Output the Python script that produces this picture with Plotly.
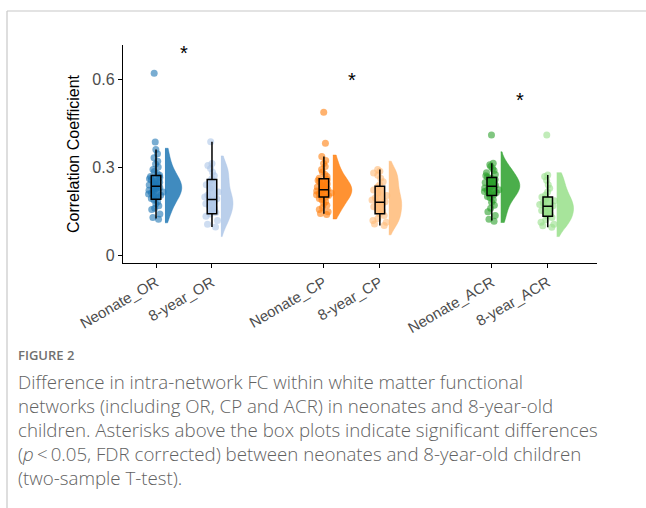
import plotly.graph_objects as go

# ---------------- data ----------------
categories = ["Neonate_OR", "8-year_OR", "Neonate_CP", "8-year_CP", "Neonate_ACR", "8-year_ACR"]
positions = [1, 2, 4, 5, 7, 8]

neonate_or = [0.122, 0.128, 0.140, 0.155, 0.160, 0.168, 0.175, 0.182, 0.188, 0.193, 0.197, 0.200,
              0.204, 0.208, 0.212, 0.215, 0.218, 0.221, 0.224, 0.227, 0.230, 0.233, 0.236, 0.239,
              0.242, 0.245, 0.248, 0.252, 0.256, 0.260, 0.264, 0.268, 0.272, 0.278, 0.285, 0.292,
              0.300, 0.310, 0.320, 0.332, 0.345, 0.360, 0.385, 0.620]
year8_or = [0.096, 0.105, 0.118, 0.132, 0.140, 0.145, 0.152, 0.160, 0.168, 0.175, 0.182, 0.188,
            0.192, 0.198, 0.205, 0.215, 0.228, 0.240, 0.252, 0.260, 0.270, 0.282, 0.295, 0.305,
            0.312, 0.386]
neonate_cp = [0.138, 0.142, 0.148, 0.155, 0.162, 0.170, 0.176, 0.182, 0.188, 0.193, 0.197, 0.200,
              0.203, 0.206, 0.209, 0.212, 0.215, 0.218, 0.220, 0.222, 0.224, 0.226, 0.229, 0.232,
              0.235, 0.238, 0.242, 0.246, 0.250, 0.254, 0.258, 0.262, 0.268, 0.275, 0.283, 0.292,
              0.302, 0.312, 0.322, 0.336, 0.381, 0.487]
year8_cp = [0.101, 0.106, 0.112, 0.118, 0.125, 0.135, 0.142, 0.150, 0.158, 0.165, 0.172, 0.178,
            0.182, 0.188, 0.195, 0.203, 0.212, 0.222, 0.232, 0.240, 0.250, 0.262, 0.272, 0.280,
            0.286, 0.292]
neonate_acr = [0.115, 0.122, 0.135, 0.148, 0.160, 0.170, 0.180, 0.188, 0.195, 0.200, 0.205, 0.209,
               0.213, 0.217, 0.220, 0.223, 0.226, 0.229, 0.232, 0.235, 0.238, 0.241, 0.244, 0.247,
               0.250, 0.254, 0.258, 0.262, 0.266, 0.270, 0.275, 0.281, 0.288, 0.295, 0.302, 0.308,
               0.313, 0.409]
year8_acr = [0.095, 0.100, 0.105, 0.112, 0.120, 0.128, 0.134, 0.140, 0.146, 0.152, 0.158, 0.163,
             0.168, 0.172, 0.178, 0.185, 0.192, 0.198, 0.205, 0.215, 0.228, 0.240, 0.255, 0.268,
             0.273, 0.409]
group_values = [neonate_or, year8_or, neonate_cp, year8_cp, neonate_acr, year8_acr]

# box statistics
box_q1 = [0.190, 0.141, 0.198, 0.141, 0.203, 0.132]
box_median = [0.235, 0.189, 0.223, 0.180, 0.235, 0.166]
box_q3 = [0.271, 0.258, 0.260, 0.235, 0.264, 0.198]
box_low = [0.125, 0.096, 0.141, 0.101, 0.118, 0.095]
box_high = [0.360, 0.386, 0.336, 0.292, 0.313, 0.273]

# violin extents
violin_span = [[0.110, 0.364], [0.063, 0.338], [0.123, 0.341], [0.069, 0.320], [0.111, 0.352], [0.063, 0.281]]

# significance asterisks (between pairs)
sig_x = [1.5, 4.5, 7.5]
sig_y = [0.690, 0.597, 0.530]

# ---------------- styles ----------------
dark = ["31,119,180", "255,127,14", "44,160,44"]
light = ["174,199,232", "255,187,120", "152,223,138"]
colors = []
for d, l in zip(dark, light):
    colors += [d, l]
violin_widths = [0.60, 0.43, 0.68, 0.46, 0.68, 0.60]

fig = go.Figure()

# jittered points
for p, vals, c in zip(positions, group_values, colors):
    fig.add_trace(go.Box(
        y=vals, x0=p, boxpoints="all", jitter=1, pointpos=0, width=0.30,
        fillcolor="rgba(0,0,0,0)", line=dict(color="rgba(0,0,0,0)", width=0),
        marker=dict(color=f"rgba({c},0.6)", size=7, line=dict(width=0)),
        showlegend=False, hoverinfo="y"))

# half violins
for p, vals, c, sp, w in zip(positions, group_values, colors, violin_span, violin_widths):
    fig.add_trace(go.Violin(
        y=vals, x0=p + 0.16, side="positive", width=w, spanmode="manual", span=sp,
        bandwidth=0.028, fillcolor=f"rgba({c},0.85)", line=dict(color=f"rgba({c},0.85)", width=0.5),
        points=False, box_visible=False, meanline_visible=False, scalemode="width",
        showlegend=False, hoverinfo="skip"))

# boxes
for i, (p, c) in enumerate(zip(positions, colors)):
    fig.add_trace(go.Box(
        x=[p], q1=[box_q1[i]], median=[box_median[i]], q3=[box_q3[i]],
        lowerfence=[box_low[i]], upperfence=[box_high[i]], width=0.17,
        fillcolor=f"rgba({c},0.85)", line=dict(color="black", width=1.5),
        whiskerwidth=0, boxpoints=False, showlegend=False))

for x, y in zip(sig_x, sig_y):
    fig.add_annotation(x=x, y=y, text="*", showarrow=False, xref="x", yref="y",
                       font=dict(size=20, color="black", family="Liberation Sans"))

# caption
plot_top, plot_bottom, plot_left, plot_w = 45, 263, 123, 474
ph = plot_bottom - plot_top


def py(ypx):
    return (plot_bottom - ypx) / ph


def px(xpx):
    return (xpx - plot_left) / plot_w


fig.add_annotation(x=px(16), y=py(355), xref="paper", yref="paper", xanchor="left", yanchor="middle",
                   text="FIGURE 2", showarrow=False,
                   font=dict(size=13, color="#707070", family="Open Sans", weight=600))
caption_lines = [
    "Difference in intra-network FC within white matter functional",
    "networks (including OR, CP and ACR) in neonates and 8-year-old",
    "children. Asterisks above the box plots indicate significant differences",
    "(<i>p</i>\u2009<\u20090.05, FDR corrected) between neonates and 8-year-old children",
    "(two-sample T-test).",
]
for k, line in enumerate(caption_lines):
    fig.add_annotation(x=px(16), y=py(381 + 24 * k), xref="paper", yref="paper", xanchor="left",
                       yanchor="middle", text=line, showarrow=False,
                       font=dict(size=18.7, color="#626262", family="Open Sans", weight=300))

# frame lines
fig.add_shape(type="line", xref="paper", yref="paper", x0=px(7), x1=px(646), y0=py(11), y1=py(11),
              line=dict(color="#c8c8c8", width=1.2))
fig.add_shape(type="line", xref="paper", yref="paper", x0=px(7), x1=px(7), y0=py(11), y1=py(508),
              line=dict(color="#c8c8c8", width=1.2))

fig.update_layout(
    width=646, height=508, margin=dict(l=123, r=49, t=45, b=245),
    paper_bgcolor="white", plot_bgcolor="white",
    boxmode="overlay", violinmode="overlay",
    font=dict(family="Liberation Sans", color="#4d4d4d"),
    xaxis=dict(type="linear", range=[0.41, 8.88], tickvals=positions, ticktext=categories,
               tickangle=-30, ticks="outside", ticklen=4, tickcolor="black", tickwidth=1,
               showline=True, linecolor="black", linewidth=1.4, showgrid=False, zeroline=False,
               tickfont=dict(size=15, color="#4d4d4d")),
    yaxis=dict(range=[-0.027, 0.716], tickvals=[0, 0.3, 0.6], ticktext=["0", "0.3", "0.6"],
               ticks="outside", ticklen=4, tickcolor="black", tickwidth=1,
               showline=True, linecolor="black", linewidth=1.4, showgrid=False, zeroline=False,
               tickfont=dict(size=16, color="#4d4d4d"),
               title=dict(text="Correlation Coefficient", font=dict(size=16, color="black"), standoff=8)),
)

fig.write_html("out.html")
